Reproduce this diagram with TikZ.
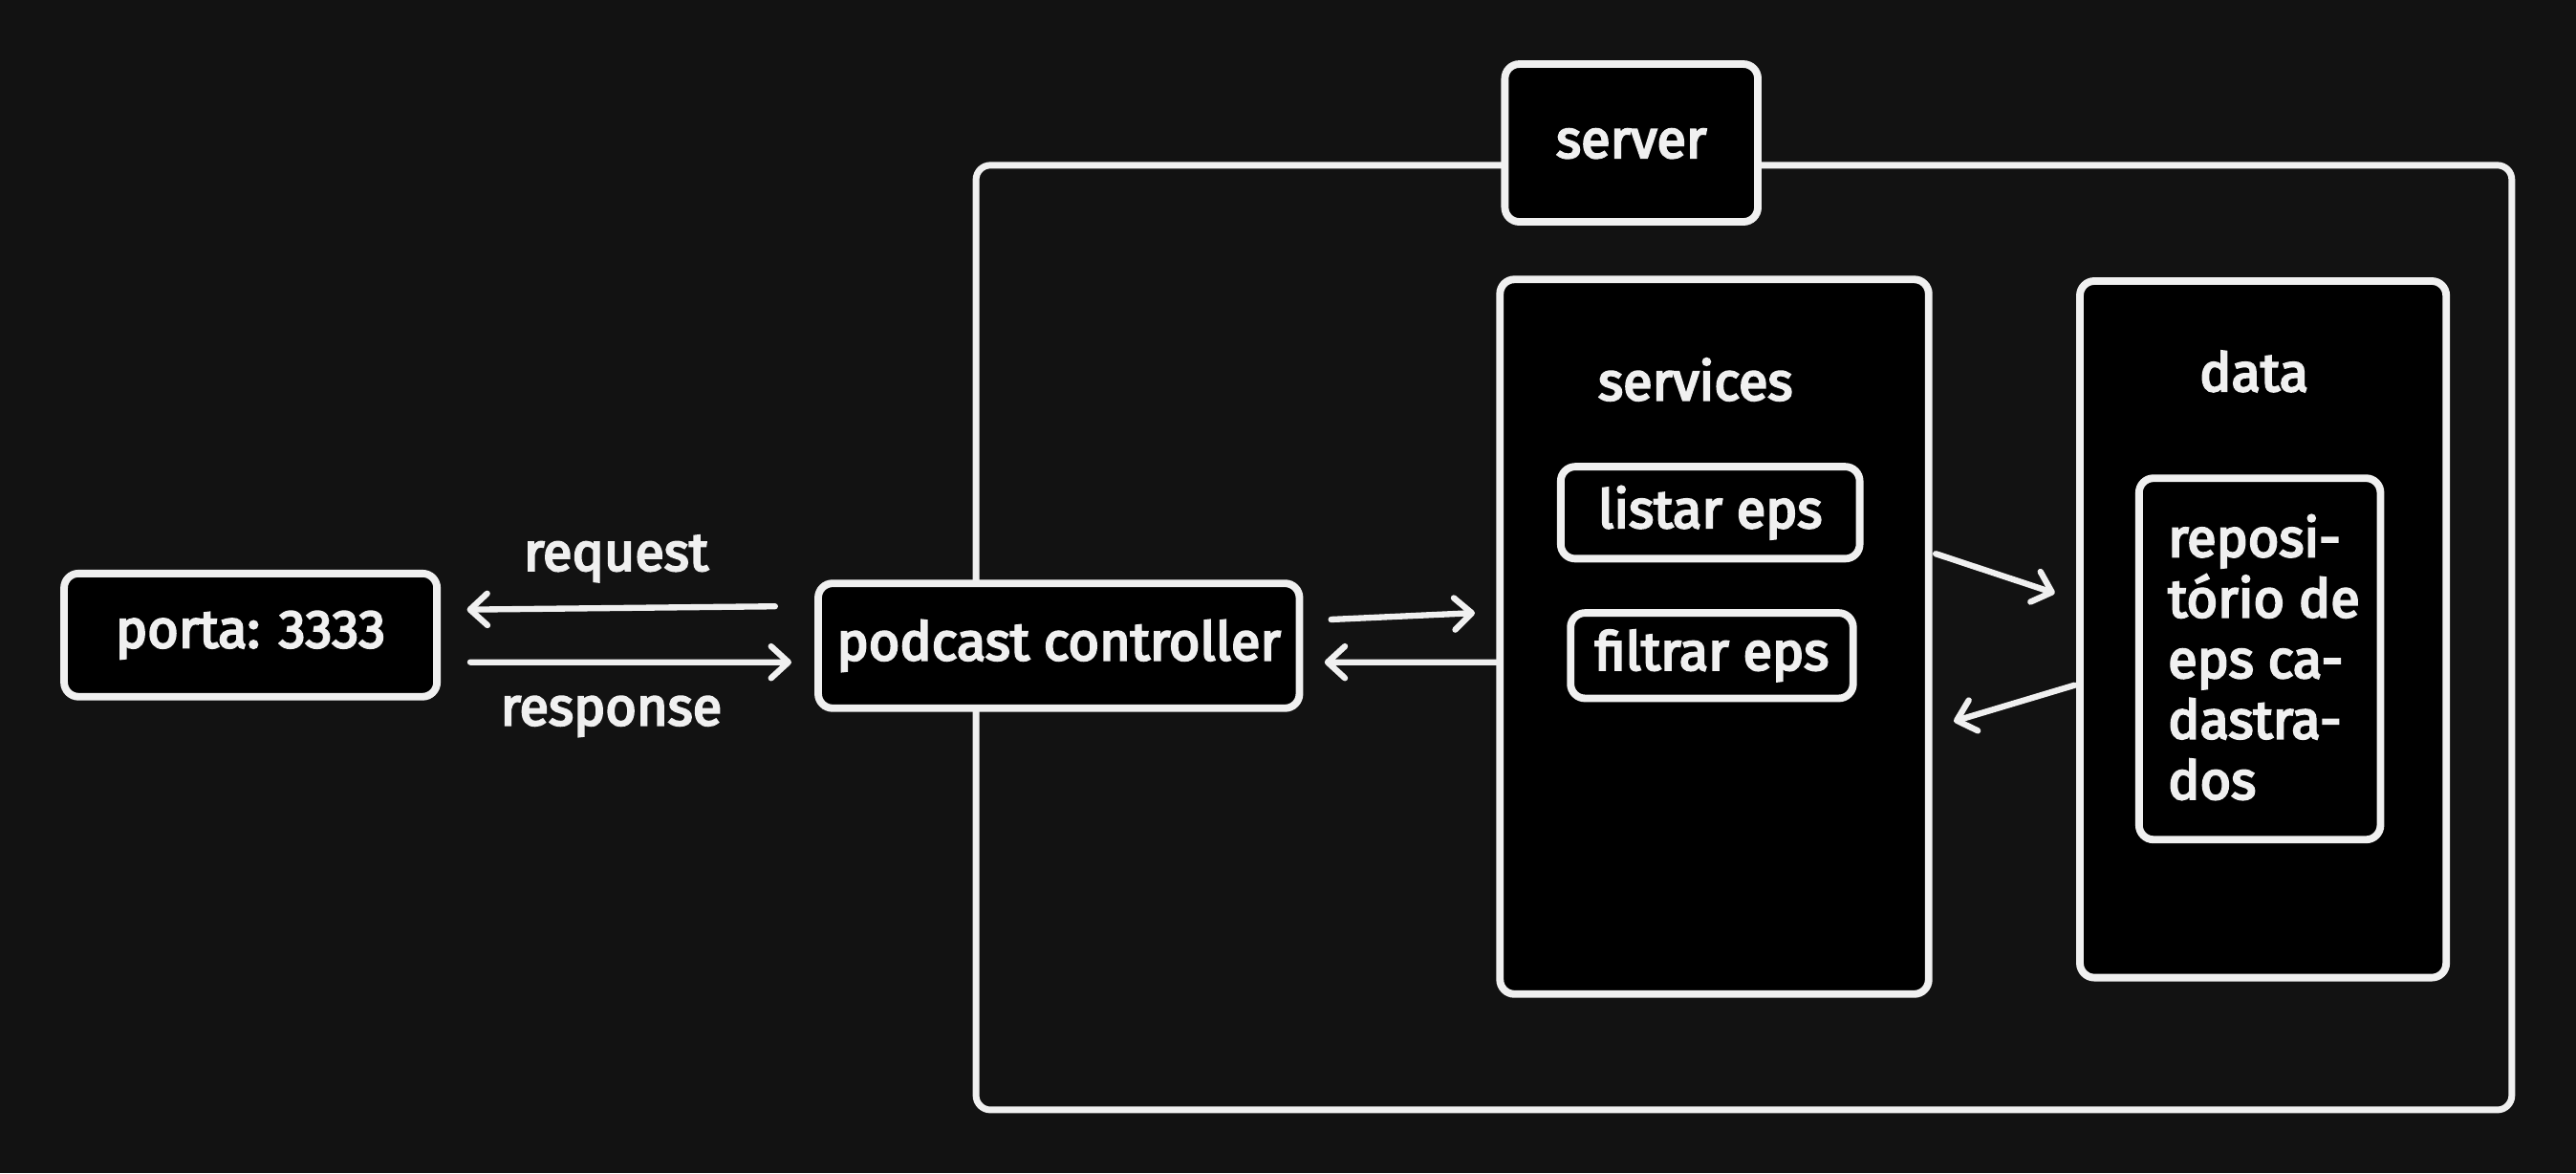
\documentclass[tikz,border=0pt]{standalone}
\usepackage{fontspec}
\setmainfont{Fira Sans}
\newfontfamily\medfont{Fira Sans}[RawFeature={embolden=4}]
\usetikzlibrary{arrows.meta,calc}
\definecolor{bg}{HTML}{121212}
\definecolor{fg}{HTML}{F0F0F0}
\begin{document}
\begin{tikzpicture}[x=0.02cm,y=-0.02cm,
  txt/.style={font=\medfont\fontsize{18.5}{21}\selectfont},
  box/.style={draw=fg, fill=black, line width=2.6pt, rounded corners=5pt, inner sep=0pt, text=fg, txt},
  frame/.style={draw=fg, line width=2.3pt, rounded corners=5pt, inner sep=0pt},
  lbl/.style={text=fg, txt, inner sep=0pt},
  conn/.style={draw=fg, line width=2.1pt, line cap=round, -{Straight Barb[length=6pt,width=11pt,line width=2.1pt,round]}}
]
\fill[bg] (0,0) rectangle (1568,714);
\useasboundingbox (0,0) rectangle (1568,714);

% server frame
\node[frame, minimum width=18.7cm, minimum height=11.5cm] (server) at (1061.5,388) {};
\node[box, minimum width=3.08cm, minimum height=1.92cm, text height=1.02em, text depth=0pt] (serverlbl) at (993,87) {server};

% left side
\node[box, minimum width=4.54cm, minimum height=1.5cm] (porta) at (152.5,386.5) {porta: 3333};
\node[box, minimum width=5.86cm, minimum height=1.52cm] (ctrl) at (644.5,393) {podcast controller};

% services
\node[box, minimum width=5.22cm, minimum height=8.7cm] (svc) at (1043.5,387.5) {};
\node[lbl] (svclbl) at (1032,231) {services};
\node[box, minimum width=3.64cm, minimum height=1.12cm] (listar) at (1041,312) {listar eps};
\node[box, minimum width=3.44cm, minimum height=1.04cm] (filtrar) at (1042,399) {filtrar eps};

% data
\node[box, minimum width=4.46cm, minimum height=8.48cm] (data) at (1377.5,383) {};
\node[lbl] (datalbl) at (1372,226) {data};
\node[box, minimum width=2.94cm, minimum height=4.4cm] (repo) at (1375.5,401) {};
\node[lbl, align=left, font=\medfont\fontsize{18.5}{21}\selectfont] (repotxt) at (1378,400) {reposi-\\tório de\\eps ca-\\dastra-\\dos};

% connectors
\draw[conn] ($(ctrl.west)+(-24,-24)$) -- ($(porta.east)+(16,-15.5)$);
\node[lbl] (reqlbl) at (375,340) {request};
\draw[conn] ($(porta.east)+(18,16.5)$) -- ($(ctrl.west)+(-14,10)$);
\node[lbl] (reslbl) at (372,436) {response};

\draw[conn] ($(ctrl.east)+(17,-16)$) -- ($(svc.west)+(-13,-14.5)$);
\draw[conn] ($(svc.west)+(2,15.5)$) -- ($(ctrl.east)+(13,10)$);

\draw[conn] ($(svc.east)+(2,-50.5)$) -- ($(data.west)+(-13,-22)$);
\draw[conn] ($(data.west)+(-1,34)$) -- ($(svc.east)+(13,51.5)$);
\end{tikzpicture}
\end{document}
